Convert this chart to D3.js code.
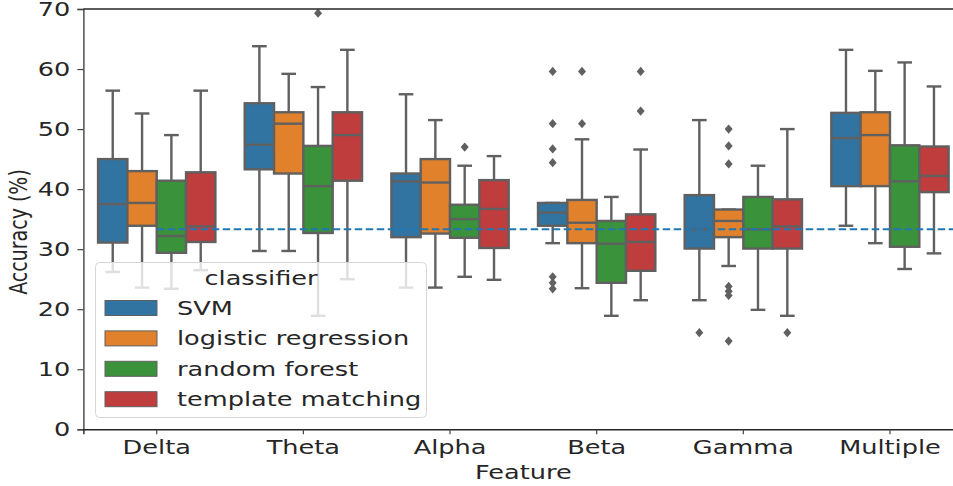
<!DOCTYPE html>
<html><head><meta charset="utf-8">
<script src="https://cdn.jsdelivr.net/npm/d3@7"></script>
<style>
html,body{margin:0;padding:0;background:#fff;}
text{font-family:"DejaVu Sans",sans-serif;fill:#262626;}
</style></head>
<body>
<svg id="chart" width="953" height="486"></svg>
<script>
// ---- data ----
const features = ["Delta","Theta","Alpha","Beta","Gamma","Multiple"];
const classifiers = ["SVM","logistic regression","random forest","template matching"];
const colors = ["#3274a1","#e1812c","#3a923a","#c03d3e"];
const yTicks = [0,10,20,30,40,50,60,70];
const chanceLevel = 33.3;
// stats per feature: [lowerWhisker, Q1, median, Q3, upperWhisker]
const svmStats = [[26.2,31.1,37.5,45.0,56.4],[29.7,43.3,47.4,54.3,63.8],[23.6,32.0,41.3,42.6,55.8],[31.0,33.9,36.1,37.7,37.7],[21.5,30.1,33.3,39.0,51.5],[33.9,40.5,48.5,52.7,63.2]];
const lrStats  = [[23.6,33.9,37.7,43.0,52.6],[29.7,42.6,50.9,52.8,59.2],[23.6,32.6,41.1,45.0,51.5],[23.5,31.0,34.4,38.2,48.3],[27.2,32.0,34.7,36.6,36.6],[31.0,40.5,49.0,52.8,59.7]];
const rfStats  = [[23.4,29.4,32.2,41.4,49.0],[18.9,32.7,40.5,47.2,57.0],[25.4,31.9,35.0,37.4,43.9],[18.9,24.4,30.9,34.7,38.7],[19.9,30.1,33.3,38.7,43.9],[26.7,30.4,41.3,47.3,61.1]];
const tmStats  = [[26.5,31.2,33.8,42.8,56.4],[25.0,41.4,49.0,52.8,63.2],[24.9,30.2,36.7,41.5,45.5],[21.5,26.4,31.2,35.8,46.6],[18.9,30.1,33.8,38.3,50.0],[29.3,39.5,42.2,47.1,57.1]];
// outliers per feature
const svmOut = [[],[],[],[59.6,50.9,46.7,44.4,25.4,24.4,23.4],[16.1],[]];
const lrOut  = [[],[],[],[59.6,50.9],[50.0,47.2,44.2,23.8,23.0,22.3,14.7],[]];
const rfOut  = [[],[69.3],[47.0],[],[],[]];
const tmOut  = [[],[],[],[59.6,53.0],[16.1],[]];

const stats = [svmStats, lrStats, rfStats, tmStats];
const outs = [svmOut, lrOut, rfOut, tmOut];

// ---- layout ----
const SX = 1.28;          // horizontal text stretch of the reference
const FS = 20;
const svg = d3.select("#chart");
const pLeft = 83.4, pRight = 963.3, pTop = 9, pBottom = 429.3;
const x = d3.scaleBand().domain(features).range([pLeft, pRight]).padding(0);
const y = d3.scaleLinear().domain([0,70]).range([pBottom, pTop]);
const bw = x.bandwidth();
const boxW = bw * 0.8 / classifiers.length;
const xOff = d3.scaleBand().domain(classifiers).range([-bw*0.4, bw*0.4]).padding(0);
const edge = "#606060";

// boxes
const g = svg.append("g");
classifiers.forEach((c, ci) => {
  features.forEach((f, fi) => {
    const s = stats[ci][fi];
    const cx = x(f) + bw/2 + xOff(c) + boxW/2;
    const gb = g.append("g");
    gb.append("line").attr("x1",cx).attr("x2",cx).attr("y1",y(s[0])).attr("y2",y(s[1]))
      .attr("stroke",edge).attr("stroke-width",2.4);
    gb.append("line").attr("x1",cx).attr("x2",cx).attr("y1",y(s[3])).attr("y2",y(s[4]))
      .attr("stroke",edge).attr("stroke-width",2.4);
    [s[0], s[4]].forEach(v => {
      gb.append("line").attr("x1",cx-boxW/4).attr("x2",cx+boxW/4).attr("y1",y(v)).attr("y2",y(v))
        .attr("stroke",edge).attr("stroke-width",2.4);
    });
    gb.append("rect").attr("x",cx-boxW/2).attr("width",boxW)
      .attr("y",y(s[3])).attr("height",y(s[1])-y(s[3]))
      .attr("fill",colors[ci]).attr("stroke",edge).attr("stroke-width",2.4);
    gb.append("line").attr("x1",cx-boxW/2).attr("x2",cx+boxW/2).attr("y1",y(s[2])).attr("y2",y(s[2]))
      .attr("stroke",edge).attr("stroke-width",2.4);
    outs[ci][fi].forEach(v => {
      const py = y(v);
      gb.append("path")
        .attr("d",`M${cx},${py-4.6}L${cx+4},${py}L${cx},${py+4.6}L${cx-4},${py}Z`)
        .attr("fill",edge);
    });
  });
});

// chance line
svg.append("line")
  .attr("x1", x(features[0]) + bw/2).attr("x2", 960)
  .attr("y1", y(chanceLevel)).attr("y2", y(chanceLevel))
  .attr("stroke","#1f77b4").attr("stroke-width",2).attr("stroke-dasharray","7.5,3.5");

// axes
const yAxis = d3.axisLeft(y).tickValues(yTicks).tickSize(6).tickPadding(7);
const gy = svg.append("g").attr("transform",`translate(${pLeft},0)`).call(yAxis);
gy.select(".domain").attr("stroke","#444").attr("stroke-width",1.4);
gy.selectAll(".tick line").attr("stroke","#444").attr("stroke-width",1.2);
gy.selectAll(".tick text").attr("font-size",FS).attr("font-family","DejaVu Sans").attr("fill","#262626")
  .each(function(){ const t=d3.select(this); const xx=+t.attr("x"); t.attr("x", xx/SX).attr("transform",`scale(${SX},1)`); });

const xAxis = d3.axisBottom(x).tickSize(5).tickPadding(6);
const gx = svg.append("g").attr("transform",`translate(0,${pBottom})`).call(xAxis);
gx.select(".domain").attr("stroke","#262626").attr("stroke-width",1.4);
gx.selectAll(".tick line").attr("stroke","#444").attr("stroke-width",1.2);
gx.selectAll(".tick text").attr("font-size",FS).attr("font-family","DejaVu Sans").attr("fill","#262626")
  .attr("transform",`scale(${SX},1)`);

// top spine
svg.append("line").attr("x1",pLeft).attr("x2",953).attr("y1",pTop).attr("y2",pTop)
  .attr("stroke","#262626").attr("stroke-width",1.4);

// axis labels
svg.append("text").attr("text-anchor","middle")
  .attr("transform",`translate(${(pLeft+pRight)/2},479) scale(${SX},1)`)
  .attr("font-size",FS).text("Feature");
svg.append("text").attr("text-anchor","middle")
  .attr("transform",`translate(27,232) scale(${SX},1) rotate(-90)`)
  .attr("font-size",FS-1).text("Accuracy (%)");

// legend
const lg = svg.append("g");
lg.append("rect").attr("x",95.5).attr("y",262.5).attr("width",331).attr("height",155).attr("rx",4)
  .attr("fill","#ffffff").attr("fill-opacity",0.8).attr("stroke","#d6d6d6").attr("stroke-width",1);
lg.append("text").attr("text-anchor","middle")
  .attr("transform",`translate(261,285) scale(${SX},1)`).attr("font-size",FS).text("classifier");
classifiers.forEach((c, i) => {
  const cy = 308 + i*30.4;
  lg.append("rect").attr("x",105).attr("y",cy-7.5).attr("width",52).attr("height",15)
    .attr("fill",colors[i]).attr("stroke",edge).attr("stroke-width",1);
  lg.append("text").attr("transform",`translate(177,${cy+7}) scale(${SX},1)`)
    .attr("font-size",FS).text(c);
});
</script>
</body></html>
